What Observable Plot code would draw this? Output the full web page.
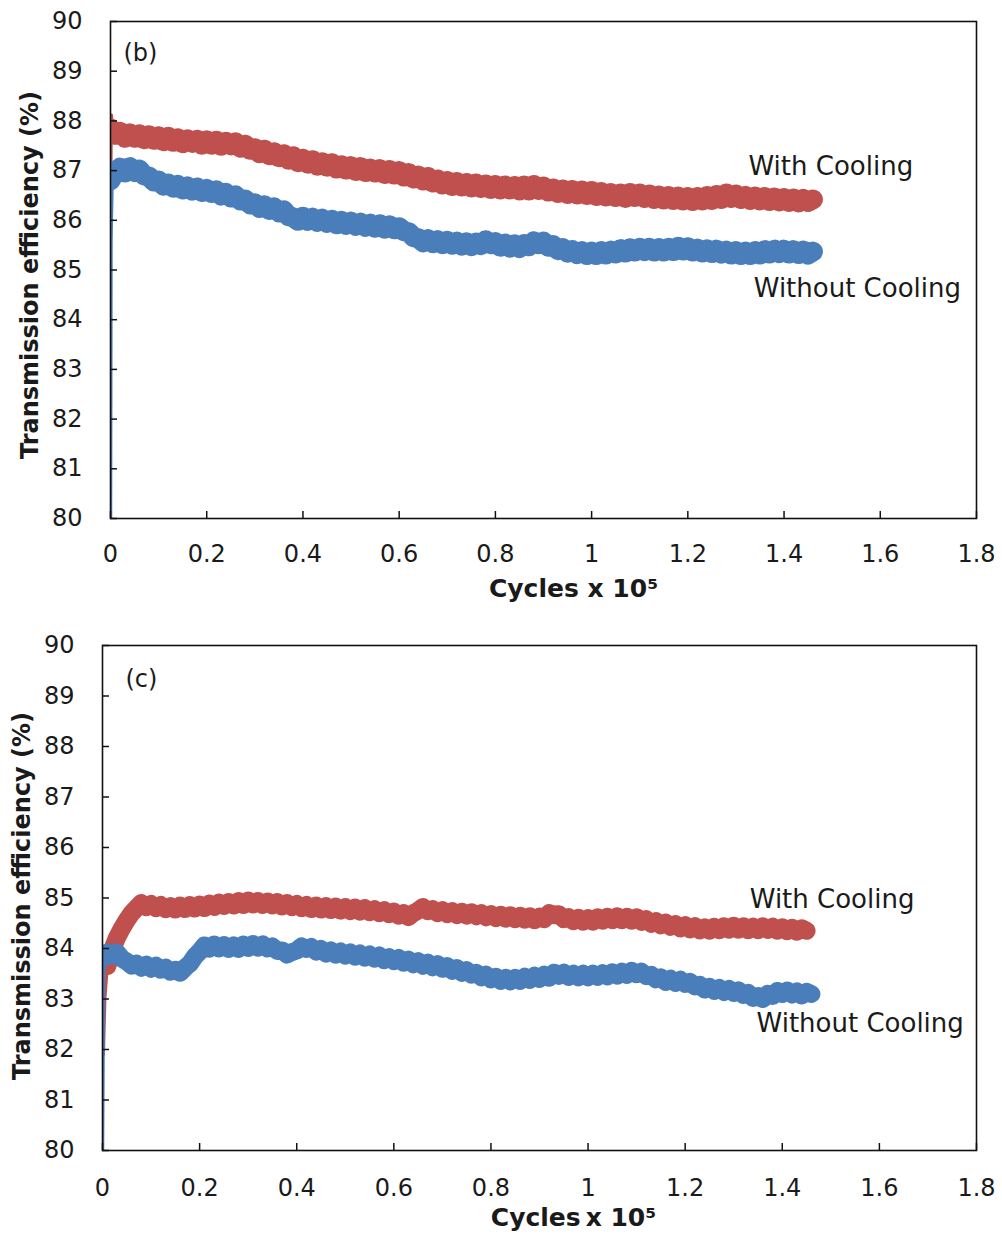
<!DOCTYPE html>
<html><head><meta charset="utf-8">
<script src="https://cdn.jsdelivr.net/npm/d3@7"></script>
<script src="https://cdn.jsdelivr.net/npm/@observablehq/plot@0.6"></script>
<style>
body{margin:0;background:#fff;width:1002px;}
svg{display:block;}
</style>
</head><body><div id="chart"></div>
<script>
// ---------- axis ticks ----------
const xTicks = [0, 0.2, 0.4, 0.6, 0.8, 1, 1.2, 1.4, 1.6, 1.8];
const yTicks = [80, 81, 82, 83, 84, 85, 86, 87, 88, 89, 90];
const sampleStep = 0.01; // x spacing (Cycles x 10^5) of the sampled series below

// ---------- panel (b) ----------
const bWithStart = 0.00;
const bWith = [
87.85,87.72,87.78,87.66,87.75,87.66,87.73,87.63,87.71,87.62,
87.69,87.59,87.68,87.58,87.65,87.55,87.63,87.56,87.62,87.52,
87.61,87.52,87.60,87.50,87.58,87.51,87.57,87.46,87.52,87.42,
87.45,87.35,87.42,87.31,87.37,87.27,87.33,87.22,87.29,87.17,
87.24,87.14,87.21,87.10,87.17,87.08,87.15,87.04,87.11,87.02,
87.09,86.99,87.07,86.97,87.04,86.96,87.03,86.93,87.01,86.92,
86.99,86.88,86.95,86.84,86.90,86.80,86.87,86.76,86.82,86.72,
86.79,86.69,86.77,86.68,86.75,86.66,86.74,86.65,86.72,86.63,
86.71,86.62,86.70,86.62,86.69,86.60,86.70,86.60,86.71,86.61,
86.68,86.58,86.64,86.55,86.62,86.53,86.61,86.52,86.60,86.51,
86.59,86.49,86.57,86.48,86.55,86.47,86.54,86.45,86.55,86.47,
86.54,86.45,86.52,86.43,86.50,86.42,86.49,86.41,86.48,86.40,
86.47,86.39,86.47,86.40,86.49,86.41,86.51,86.43,86.54,86.45,
86.52,86.43,86.49,86.41,86.48,86.40,86.47,86.39,86.46,86.38,
86.45,86.37,86.44,86.36,86.43,86.37,86.42
];
const bWithoutStart = 0.00;
const bWithout = [
86.80,86.98,87.06,86.96,87.07,86.97,87.02,86.90,86.88,86.78,
86.80,86.70,86.74,86.66,86.71,86.62,86.68,86.60,86.66,86.57,
86.63,86.55,86.60,86.50,86.55,86.46,86.50,86.40,86.42,86.32,
86.34,86.25,86.30,86.21,86.26,86.16,86.20,86.08,86.06,85.99,
86.07,85.99,86.05,85.97,86.03,85.95,86.01,85.92,85.99,85.91,
85.97,85.89,85.95,85.87,85.93,85.85,85.92,85.83,85.90,85.82,
85.86,85.78,85.76,85.66,85.64,85.56,85.62,85.54,85.60,85.52,
85.59,85.51,85.57,85.49,85.56,85.48,85.55,85.50,85.60,85.52,
85.56,85.47,85.53,85.45,85.52,85.44,85.52,85.48,85.58,85.52,
85.57,85.47,85.50,85.40,85.44,85.35,85.40,85.32,85.38,85.30,
85.37,85.30,85.38,85.31,85.39,85.33,85.42,85.35,85.44,85.37,
85.45,85.38,85.45,85.37,85.44,85.37,85.45,85.38,85.47,85.39,
85.46,85.37,85.43,85.35,85.42,85.34,85.41,85.33,85.39,85.31,
85.38,85.30,85.37,85.30,85.38,85.31,85.40,85.33,85.41,85.34,
85.41,85.33,85.40,85.32,85.39,85.31,85.37
];
// steep start-up readings (x, efficiency)
const bWithHead = [[0.001, 87.05], [0.002, 88.12], [0.005, 87.8]];
const bWithoutHead = [[0.0, 80.0], [0.001, 85.6], [0.003, 86.7], [0.006, 86.9]];

// ---------- panel (c) ----------
const cWithStart = 0.01;
const cWith = [
83.65,83.98,84.22,84.40,84.56,84.70,84.80,84.90,84.82,
84.88,84.80,84.86,84.78,84.84,84.77,84.85,84.78,84.86,84.79,
84.87,84.80,84.89,84.82,84.91,84.84,84.92,84.85,84.94,84.86,
84.95,84.87,84.94,84.86,84.93,84.85,84.92,84.83,84.90,84.82,
84.88,84.80,84.86,84.78,84.85,84.77,84.84,84.76,84.83,84.75,
84.82,84.74,84.81,84.73,84.80,84.72,84.78,84.70,84.76,84.68,
84.73,84.65,84.70,84.62,84.70,84.75,84.82,84.74,84.78,84.70,
84.76,84.68,84.74,84.66,84.73,84.65,84.72,84.64,84.70,84.62,
84.68,84.60,84.67,84.59,84.66,84.58,84.65,84.57,84.64,84.56,
84.63,84.58,84.70,84.66,84.68,84.58,84.62,84.54,84.61,84.53,
84.60,84.53,84.62,84.55,84.63,84.56,84.64,84.56,84.63,84.55,
84.62,84.53,84.58,84.49,84.54,84.46,84.51,84.43,84.48,84.40,
84.46,84.38,84.44,84.36,84.42,84.35,84.43,84.36,84.44,84.37,
84.45,84.37,84.44,84.36,84.43,84.36,84.44,84.37,84.43,84.35,
84.42,84.34,84.41,84.33,84.40,84.35
];
const cWithoutStart = 0.00;
const cWithout = [
83.80,83.92,83.86,83.92,83.80,83.74,83.66,83.70,83.62,83.68,
83.60,83.66,83.58,83.62,83.54,83.58,83.52,83.62,83.70,83.84,
83.94,84.06,84.00,84.08,84.00,84.07,83.99,84.06,83.99,84.08,
84.01,84.09,84.02,84.08,84.00,84.04,83.95,83.96,83.88,83.93,
83.96,84.04,83.99,84.03,83.94,83.99,83.90,83.96,83.88,83.94,
83.86,83.92,83.84,83.90,83.82,83.88,83.80,83.86,83.77,83.83,
83.75,83.81,83.72,83.78,83.69,83.75,83.66,83.72,83.63,83.69,
83.60,83.65,83.56,83.61,83.52,83.57,83.48,83.52,83.43,83.48,
83.39,83.44,83.36,83.42,83.35,83.42,83.36,83.44,83.38,83.46,
83.40,83.48,83.42,83.52,83.46,83.52,83.44,83.50,83.43,83.50,
83.43,83.50,83.44,83.51,83.45,83.53,83.46,83.54,83.48,83.56,
83.49,83.54,83.45,83.48,83.39,83.43,83.34,83.40,83.32,83.38,
83.30,83.34,83.25,83.28,83.19,83.24,83.16,83.22,83.14,83.20,
83.12,83.17,83.08,83.12,83.02,83.06,83.00,83.10,83.06,83.16,
83.10,83.17,83.09,83.15,83.07,83.14,83.10
];
const cWithHead = [[0.002, 81.9], [0.005, 83.0], [0.01, 83.65]];
const cWithoutHead = [[0.0, 80.0], [0.002, 83.5], [0.006, 83.95]];

const seriesNames = ["With Cooling", "Without Cooling"];
const colors = {"With Cooling": "#C0504D", "Without Cooling": "#4A7EBB"};

function toPts(start, vals) {
  return vals.map((v, i) => ({x: +(start + i * sampleStep).toFixed(4), y: v}));
}
function headPts(h) { return h.map(([x, y]) => ({x, y})); }

const FONT = "DejaVu Sans";
const INK = "#1a1a1a";

function panel(cfg) {
  const innerW = 1002 - cfg.ml - cfg.mr;
  const innerH = cfg.height - cfg.mt - cfg.mb;
  const withPts = toPts(cfg.withStart, cfg.withVals);
  const withoutPts = toPts(cfg.withoutStart, cfg.withoutVals);
  return Plot.plot({
    width: 1002,
    height: cfg.height,
    marginLeft: cfg.ml, marginRight: cfg.mr, marginTop: cfg.mt, marginBottom: cfg.mb,
    style: {fontFamily: FONT, fontSize: "24px", color: INK, background: "#fff"},
    x: {domain: [0, 1.8]},
    y: {domain: [80, 90]},
    marks: [
      Plot.line(headPts(cfg.withHead), {x: "x", y: "y", stroke: colors[seriesNames[0]], strokeWidth: 3, clip: true}),
      Plot.line(withPts, {x: "x", y: "y", stroke: colors[seriesNames[0]], strokeWidth: cfg.band, strokeLinejoin: "round", strokeLinecap: "round", clip: true}),
      Plot.line(headPts(cfg.withoutHead), {x: "x", y: "y", stroke: colors[seriesNames[1]], strokeWidth: 3.5, clip: true}),
      Plot.line(withoutPts, {x: "x", y: "y", stroke: colors[seriesNames[1]], strokeWidth: cfg.band, strokeLinejoin: "round", strokeLinecap: "round", clip: true}),
      Plot.frame({stroke: "#111", strokeWidth: 1.6}),
      Plot.tickY(yTicks, {y: d => d, insetRight: innerW - 7, stroke: "#111", strokeWidth: 1.5}),
      Plot.tickX(xTicks, {x: d => d, insetTop: innerH - 7, stroke: "#111", strokeWidth: 1.5}),
      Plot.axisY({ticks: yTicks, tickSize: 0, tickPadding: cfg.padY, fontSize: 24, fill: INK, tickFormat: d => String(d), label: null}),
      Plot.axisX({ticks: xTicks, tickSize: 0, tickPadding: cfg.padX, fontSize: 24, fill: INK, tickFormat: d => String(d), label: null}),
      Plot.text([cfg.xLabel], {frameAnchor: "bottom", textAnchor: "middle", lineAnchor: "middle", dx: cfg.xLabelDx, dy: cfg.xLabelDy, fontSize: 25, fontWeight: "bold", fill: INK}),
      Plot.text(["Transmission efficiency (%)"], {frameAnchor: "left", textAnchor: "middle", lineAnchor: "middle", rotate: -90, dx: cfg.yLabelDx, dy: cfg.yLabelDy, fontSize: 24, fontWeight: "bold", fill: INK}),
      Plot.text([cfg.tag], {frameAnchor: "top-left", textAnchor: "start", lineAnchor: "middle", dx: cfg.tagDx, dy: cfg.tagDy, fontSize: 24, fill: INK}),
      Plot.text(cfg.notes, {x: "x", y: "y", text: "text", textAnchor: "start", lineAnchor: "middle", fontSize: 26, fill: INK})
    ]
  });
}

const chart = document.getElementById("chart");
chart.append(panel({
  height: 615, ml: 110, mr: 26, mt: 21, mb: 97, band: 20,
  withStart: bWithStart, withVals: bWith, withoutStart: bWithoutStart, withoutVals: bWithout,
  withHead: bWithHead, withoutHead: bWithoutHead,
  padY: 28, padX: 26,
  xLabel: "Cycles x 10\u2075", xLabelDx: 30, xLabelDy: 70,
  yLabelDx: -80, yLabelDy: 5,
  tag: "(b)", tagDx: 13, tagDy: 32,
  notes: [
    {text: seriesNames[0], x: 1.326, y: 87.08},
    {text: seriesNames[1], x: 1.337, y: 84.63}
  ]
}));
chart.append(panel({
  height: 620, ml: 102, mr: 26, mt: 30, mb: 85, band: 18,
  withStart: cWithStart, withVals: cWith, withoutStart: cWithoutStart, withoutVals: cWithout,
  withHead: cWithHead, withoutHead: cWithoutHead,
  padY: 28, padX: 28,
  xLabel: "Cycles\u2009x 10\u2075", xLabelDx: 34, xLabelDy: 67,
  yLabelDx: -80, yLabelDy: -2,
  tag: "(c)", tagDx: 23, tagDy: 34,
  notes: [
    {text: seriesNames[0], x: 1.333, y: 84.97},
    {text: seriesNames[1], x: 1.347, y: 82.51}
  ]
}));
</script>
</body></html>
